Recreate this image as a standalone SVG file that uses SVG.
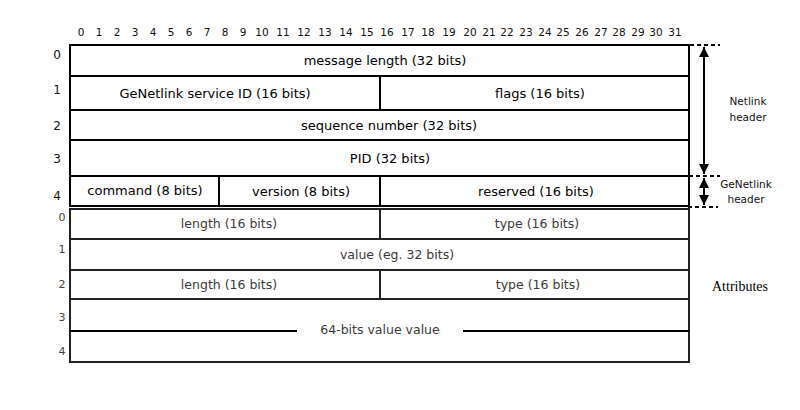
<svg xmlns="http://www.w3.org/2000/svg" width="800" height="410" viewBox="0 0 800 410">
  <defs>
    <marker id="arrowhead" viewBox="0 0 10 10" refX="10" refY="5" markerWidth="5" markerHeight="5" orient="auto-start-reverse" markerUnits="strokeWidth">
      <path d="M0,0 L10,5 L0,10 z" fill="#000"/>
    </marker>
    <style>
      .cell { fill: #fff; stroke: #000; stroke-width: 2; }
      .attr { fill: #fff; stroke: #222; stroke-width: 2; }
      .div { stroke: #000; stroke-width: 2; }
      .hdr { font-family: "DejaVu Sans", sans-serif; font-size: 13px; fill: #000; text-anchor: middle; }
      .atx { font-family: "DejaVu Sans", sans-serif; font-size: 12.5px; fill: #3a3a3a; text-anchor: middle; }
      .bit { font-family: "DejaVu Sans", sans-serif; font-size: 10.5px; fill: #111; text-anchor: middle; }
      .row { font-family: "DejaVu Sans", sans-serif; font-size: 12px; fill: #111; text-anchor: middle; }
      .arow { font-family: "DejaVu Sans", sans-serif; font-size: 11px; fill: #444; text-anchor: middle; }
      .side { font-family: "DejaVu Sans", sans-serif; font-size: 10.5px; fill: #111; text-anchor: middle; }
      .dash { stroke: #000; stroke-width: 2; stroke-dasharray: 4 3; fill: none; }
      .arrow { stroke: #000; stroke-width: 2; fill: none; }
    </style>
  </defs>
  <rect width="800" height="410" fill="#fff"/>

  <!-- bit ruler -->
  <g id="bit-ruler">
    <text class="bit" x="81" y="36">0</text>
    <text class="bit" x="99" y="36">1</text>
    <text class="bit" x="117" y="36">2</text>
    <text class="bit" x="135" y="36">3</text>
    <text class="bit" x="153" y="36">4</text>
    <text class="bit" x="171" y="36">5</text>
    <text class="bit" x="189" y="36">6</text>
    <text class="bit" x="207" y="36">7</text>
    <text class="bit" x="225" y="36">8</text>
    <text class="bit" x="243" y="36">9</text>
    <text class="bit" x="262" y="36">10</text>
    <text class="bit" x="283" y="36">11</text>
    <text class="bit" x="304" y="36">12</text>
    <text class="bit" x="325" y="36">13</text>
    <text class="bit" x="346" y="36">14</text>
    <text class="bit" x="367" y="36">15</text>
    <text class="bit" x="387" y="36">16</text>
    <text class="bit" x="408" y="36">17</text>
    <text class="bit" x="428" y="36">18</text>
    <text class="bit" x="449" y="36">19</text>
    <text class="bit" x="470" y="36">20</text>
    <text class="bit" x="489" y="36">21</text>
    <text class="bit" x="507" y="36">22</text>
    <text class="bit" x="526" y="36">23</text>
    <text class="bit" x="545" y="36">24</text>
    <text class="bit" x="563" y="36">25</text>
    <text class="bit" x="582" y="36">26</text>
    <text class="bit" x="601" y="36">27</text>
    <text class="bit" x="619" y="36">28</text>
    <text class="bit" x="638" y="36">29</text>
    <text class="bit" x="656" y="36">30</text>
    <text class="bit" x="675" y="36">31</text>
  </g>

  <!-- header row numbers -->
  <g id="header-rows">
    <text class="row" x="57" y="59">0</text>
    <text class="row" x="57" y="94">1</text>
    <text class="row" x="57" y="130">2</text>
    <text class="row" x="57" y="163">3</text>
    <text class="row" x="57" y="200">4</text>
  </g>

  <!-- netlink header words -->
  <g id="msg-length">
    <rect class="cell" x="70" y="45" width="619" height="31"/>
    <text class="hdr" x="385" y="65">message length (32 bits)</text>
  </g>
  <g id="service-id">
    <rect class="cell" x="70" y="76" width="310" height="34"/>
    <text class="hdr" x="215" y="98">GeNetlink service ID (16 bits)</text>
  </g>
  <g id="flags">
    <rect class="cell" x="380" y="76" width="309" height="34"/>
    <text class="hdr" x="540" y="98">flags (16 bits)</text>
  </g>
  <g id="seq-number">
    <rect class="cell" x="70" y="110" width="619" height="30"/>
    <text class="hdr" x="389" y="130">sequence number (32 bits)</text>
  </g>
  <g id="pid">
    <rect class="cell" x="70" y="140" width="619" height="36"/>
    <text class="hdr" x="390" y="163">PID (32 bits)</text>
  </g>

  <!-- genetlink header word -->
  <g id="command">
    <rect class="cell" x="70" y="176" width="149" height="30"/>
    <text class="hdr" x="145" y="195">command (8 bits)</text>
  </g>
  <g id="version">
    <rect class="cell" x="219" y="176" width="161" height="30"/>
    <text class="hdr" x="301" y="196">version (8 bits)</text>
  </g>
  <g id="reserved">
    <rect class="cell" x="380" y="176" width="309" height="30"/>
    <text class="hdr" x="536" y="196">reserved (16 bits)</text>
  </g>

  <!-- attribute row numbers -->
  <g id="attr-rows">
    <text class="arow" x="62" y="221">0</text>
    <text class="arow" x="62" y="253">1</text>
    <text class="arow" x="62" y="288">2</text>
    <text class="arow" x="62" y="321">3</text>
    <text class="arow" x="62" y="355">4</text>
  </g>

  <!-- attributes -->
  <g id="attr1-length">
    <rect class="attr" x="70" y="209" width="310" height="30"/>
    <text class="atx" x="229" y="228">length (16 bits)</text>
  </g>
  <g id="attr1-type">
    <rect class="attr" x="380" y="209" width="309" height="30"/>
    <text class="atx" x="537" y="228">type (16 bits)</text>
  </g>
  <g id="attr1-value">
    <rect class="attr" x="70" y="239" width="619" height="31"/>
    <text class="atx" x="397" y="259">value (eg. 32 bits)</text>
  </g>
  <g id="attr2-length">
    <rect class="attr" x="70" y="270" width="310" height="29"/>
    <text class="atx" x="229" y="289">length (16 bits)</text>
  </g>
  <g id="attr2-type">
    <rect class="attr" x="380" y="270" width="309" height="29"/>
    <text class="atx" x="538" y="289">type (16 bits)</text>
  </g>
  <g id="attr2-value">
    <rect class="attr" x="70" y="299" width="619" height="63"/>
    <line class="div" x1="70" y1="331" x2="297" y2="331"/>
    <line class="div" x1="463" y1="331" x2="689" y2="331"/>
    <text class="atx" x="380" y="334">64-bits value value</text>
  </g>

  <!-- header extent markers -->
  <g id="connectors">
    <line class="dash" x1="690" y1="45" x2="720" y2="45"/>
    <line class="dash" x1="689" y1="176" x2="720" y2="176"/>
    <line class="dash" x1="688" y1="207" x2="718" y2="207"/>
    <line class="arrow" x1="704" y1="47" x2="704" y2="174" marker-start="url(#arrowhead)" marker-end="url(#arrowhead)"/>
    <line class="arrow" x1="704" y1="178" x2="704" y2="205" marker-start="url(#arrowhead)" marker-end="url(#arrowhead)"/>
  </g>

  <g id="labels">
    <text class="side" x="748" y="105">Netlink</text>
    <text class="side" x="748" y="121">header</text>
    <text class="side" x="746" y="188">GeNetlink</text>
    <text class="side" x="746" y="203">header</text>
    <text x="740" y="291" font-family="Liberation Serif, serif" font-size="14px" text-anchor="middle" fill="#000">Attributes</text>
  </g>
</svg>
